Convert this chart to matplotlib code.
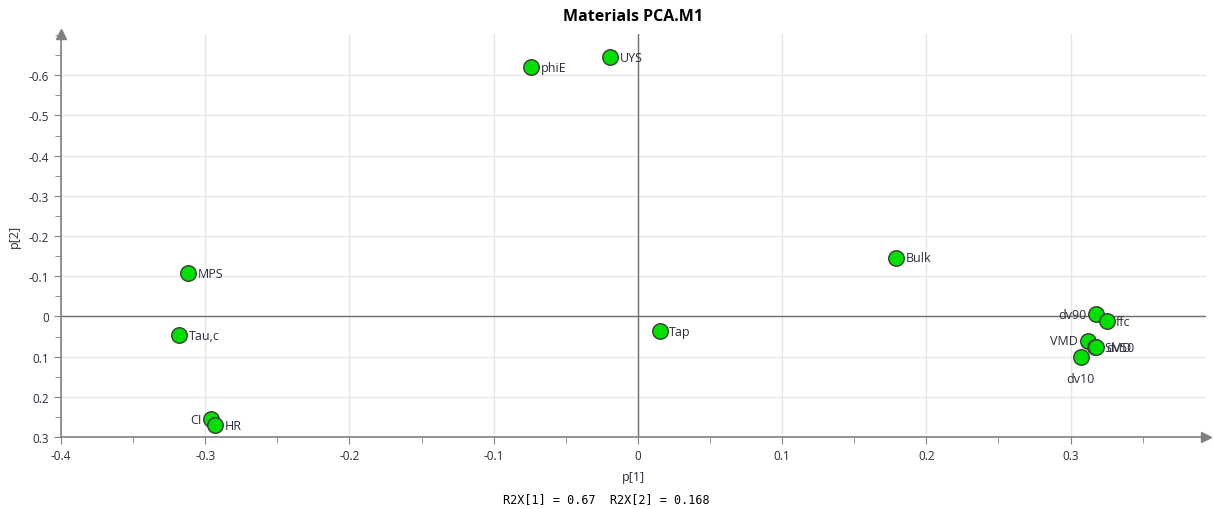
"""
Materials PCA.M1 loading plot (p[1] vs p[2]).
"""

import matplotlib
matplotlib.use('Agg')
import matplotlib.pyplot as plt
import matplotlib.ticker as mticker

# ── Data ──
NAMES = ['phiE', 'UYS', 'MPS', 'Bulk', 'Tau,c', 'Tap', 'CI', 'HR',
         'dv90', 'ffc', 'VMD', 'SMD', 'dv50', 'dv10']
P1 = [-0.074, -0.019, -0.312, 0.179, -0.318, 0.015, -0.296, -0.293,
      0.318, 0.325, 0.312, 0.317, 0.318, 0.307]
P2 = [-0.620, -0.645, -0.107, -0.146, 0.047, 0.037, 0.256, 0.270,
      -0.005, 0.012, 0.060, 0.077, 0.076, 0.102]

# label offsets in points (dx, dy) and horizontal alignment
LABEL_POS = {
    'CI':   (-7, 0, 'right'),
    'dv90': (-7, 0, 'right'),
    'VMD':  (-7, 0, 'right'),
    'dv10': (0, -15, 'center'),
}

X_TICKS = [-0.4, -0.3, -0.2, -0.1, 0, 0.1, 0.2, 0.3]
Y_TICKS = [-0.6, -0.5, -0.4, -0.3, -0.2, -0.1, 0, 0.1, 0.2, 0.3]

GREEN      = '#00e000'
EDGE       = '#3a3a3a'
GRID_COLOR = '#e6e6e6'
AXIS_COLOR = '#808080'
ZERO_COLOR = '#707070'
TEXT_COLOR = '#2b2b3b'

plt.rcParams['font.family'] = ['Open Sans', 'DejaVu Sans']

fig = plt.figure(figsize=(12.13, 5.10), dpi=100, facecolor='white')
ax = fig.add_axes([0.0503, 0.141, 0.944, 0.79])

ax.set_xlim(-0.4, 0.394)
ax.set_ylim(0.3, -0.702)

ax.set_xticks(X_TICKS)
ax.set_yticks(Y_TICKS)
ax.xaxis.set_minor_locator(mticker.MultipleLocator(0.05))
ax.yaxis.set_minor_locator(mticker.MultipleLocator(0.05))
ax.xaxis.set_major_formatter(mticker.FuncFormatter(lambda v, p: f'{v:g}' if abs(v) > 1e-9 else '0'))
ax.yaxis.set_major_formatter(mticker.FuncFormatter(lambda v, p: f'{v:g}' if abs(v) > 1e-9 else '0'))

ax.grid(True, which='major', color=GRID_COLOR, linewidth=1.0)
ax.set_axisbelow(True)

for s in ['top', 'right']:
    ax.spines[s].set_visible(False)
for s in ['left', 'bottom']:
    ax.spines[s].set_color(AXIS_COLOR)
    ax.spines[s].set_linewidth(1.2)

ax.tick_params(which='both', colors=AXIS_COLOR, labelcolor=TEXT_COLOR,
               labelsize=8.5, direction='out')
ax.tick_params(which='major', length=5)
ax.tick_params(which='minor', length=4)

# arrow heads on the axes
ax.plot(1, 0, '>', color=AXIS_COLOR, markersize=7, transform=ax.transAxes, clip_on=False)
ax.plot(0, 1, '^', color=AXIS_COLOR, markersize=7, transform=ax.transAxes, clip_on=False)

# zero lines
ax.axhline(0, color=ZERO_COLOR, linewidth=1.0, zorder=1)
ax.axvline(0, color=ZERO_COLOR, linewidth=1.0, zorder=1)

ax.scatter(P1, P2, s=125, color=GREEN, edgecolors=EDGE, linewidths=1.0, zorder=3)

for name, x, y in zip(NAMES, P1, P2):
    dx, dy, ha = LABEL_POS.get(name, (7, 0, 'left'))
    ax.annotate(name, (x, y), textcoords='offset points', xytext=(dx, dy),
                ha=ha, va='center', fontsize=9, color=TEXT_COLOR, zorder=4)

ax.set_title('Materials PCA.M1', fontsize=11.5, fontweight='bold', color='black', pad=10)
ax.set_xlabel('p[1]', fontsize=9, color=TEXT_COLOR, labelpad=6)
ax.set_ylabel('p[2]', fontsize=9, color=TEXT_COLOR, labelpad=6)

fig.text(0.5, 0.008, 'R2X[1] = 0.67  R2X[2] = 0.168', ha='center', va='bottom',
         fontsize=8.5, family='DejaVu Sans Mono', color='black')

fig.savefig('out.png', dpi=100, facecolor='white')
